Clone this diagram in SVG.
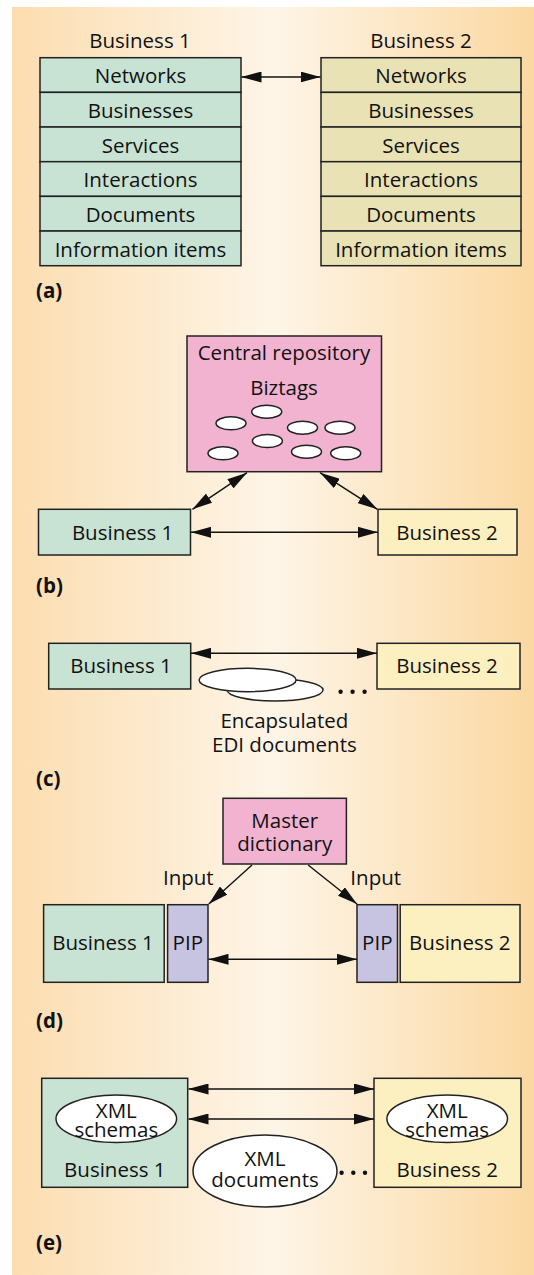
<svg xmlns="http://www.w3.org/2000/svg" width="534" height="1275" viewBox="0 0 534 1275">
<defs>
<linearGradient id="bg" x1="0" y1="0" x2="1" y2="0">
<stop offset="0" stop-color="#fcddb0"/>
<stop offset="0.5" stop-color="#fef5e7"/>
<stop offset="1" stop-color="#fbd8a2"/>
</linearGradient>
<marker id="ah" viewBox="0 0 20 11" refX="20" refY="5.5" markerWidth="20" markerHeight="11" markerUnits="userSpaceOnUse" orient="auto-start-reverse">
<path d="M0,0 L20,5.5 L0,11 z" fill="#111"/>
</marker>
</defs>
<style>
text{font-family:"Open Sans","Noto Sans","Liberation Sans",sans-serif;font-size:20.5px;fill:#111;text-anchor:middle}
.lbl{font-weight:bold;text-anchor:start}
.box{stroke:#222;stroke-width:1.5}
.g{fill:#c8e3d3}
.k{fill:#e9e2b4}
.y{fill:#fcefc0}
.p{fill:#f2b3d0}
.v{fill:#c7c4e1}
.el{fill:#fff;stroke:#222;stroke-width:1.5}
.cn{stroke:#111;stroke-width:1.4;fill:none}
.dot{fill:#111}
</style>
<rect x="12" y="7" width="522" height="1268" fill="url(#bg)"/>

<!-- (a) -->
<g id="a-business1">
<text x="140" y="48">Business 1</text>
<rect class="box g" x="40" y="57.7" width="201" height="34.67"/>
<rect class="box g" x="40" y="92.37" width="201" height="34.67"/>
<rect class="box g" x="40" y="127.03" width="201" height="34.67"/>
<rect class="box g" x="40" y="161.7" width="201" height="34.67"/>
<rect class="box g" x="40" y="196.37" width="201" height="34.67"/>
<rect class="box g" x="40" y="231.03" width="201" height="34.67"/>
<text x="140.5" y="83.3">Networks</text>
<text x="140.5" y="118">Businesses</text>
<text x="140.5" y="152.6">Services</text>
<text x="140.5" y="187.3">Interactions</text>
<text x="140.5" y="222">Documents</text>
<text x="140.5" y="256.6">Information items</text>
</g>
<g id="a-business2">
<text x="421" y="48">Business 2</text>
<rect class="box k" x="321" y="57.7" width="200" height="34.67"/>
<rect class="box k" x="321" y="92.37" width="200" height="34.67"/>
<rect class="box k" x="321" y="127.03" width="200" height="34.67"/>
<rect class="box k" x="321" y="161.7" width="200" height="34.67"/>
<rect class="box k" x="321" y="196.37" width="200" height="34.67"/>
<rect class="box k" x="321" y="231.03" width="200" height="34.67"/>
<text x="421" y="83.3">Networks</text>
<text x="421" y="118">Businesses</text>
<text x="421" y="152.6">Services</text>
<text x="421" y="187.3">Interactions</text>
<text x="421" y="222">Documents</text>
<text x="421" y="256.6">Information items</text>
</g>
<text class="lbl" x="36" y="298">(a)</text>

<!-- (b) -->
<g id="b-repository">
<rect class="box p" x="187" y="336" width="194.5" height="135.7"/>
<text x="284" y="360">Central repository</text>
<text x="284" y="395">Biztags</text>
<ellipse class="el" cx="266.7" cy="411.7" rx="15" ry="6.5"/>
<ellipse class="el" cx="231" cy="423.3" rx="15" ry="6.5"/>
<ellipse class="el" cx="302.5" cy="427.7" rx="15" ry="6.5"/>
<ellipse class="el" cx="340" cy="427.7" rx="15" ry="6.5"/>
<ellipse class="el" cx="267.4" cy="441" rx="15" ry="6.5"/>
<ellipse class="el" cx="223" cy="453.3" rx="15" ry="6.5"/>
<ellipse class="el" cx="306.5" cy="451.7" rx="15" ry="6.5"/>
<ellipse class="el" cx="345.7" cy="453.3" rx="15" ry="6.5"/>
</g>
<g id="b-business1">
<rect class="box g" x="38.5" y="509.3" width="152" height="45.7"/>
<text x="122.6" y="540">Business 1</text>
</g>
<g id="b-business2">
<rect class="box y" x="378" y="509.3" width="139" height="45.7"/>
<text x="447" y="540">Business 2</text>
</g>
<text class="lbl" x="36" y="593">(b)</text>

<!-- (c) -->
<g id="c-business1">
<rect class="box g" x="48.7" y="643.3" width="142" height="45.7"/>
<text x="121" y="673.3">Business 1</text>
</g>
<g id="c-business2">
<rect class="box y" x="377" y="643.3" width="143" height="45.7"/>
<text x="447" y="673.3">Business 2</text>
</g>
<g id="c-documents">
<ellipse class="el" cx="275" cy="690" rx="48" ry="11"/>
<ellipse class="el" cx="247.6" cy="680" rx="48.5" ry="11.7"/>
<circle class="dot" cx="340.6" cy="691.7" r="2.2"/>
<circle class="dot" cx="352.6" cy="691.7" r="2.2"/>
<circle class="dot" cx="364.6" cy="691.7" r="2.2"/>
<text x="284.4" y="728.3">Encapsulated</text>
<text x="284.4" y="751.7">EDI documents</text>
</g>
<text class="lbl" x="36" y="786">(c)</text>

<!-- (d) -->
<g id="d-master">
<rect class="box p" x="223" y="798.3" width="123.4" height="65.7"/>
<text x="284.7" y="828.3">Master</text>
<text x="284.7" y="851">dictionary</text>
</g>
<g id="d-business1">
<rect class="box g" x="43.6" y="904.7" width="120.6" height="77.6"/>
<text x="103" y="950">Business 1</text>
</g>
<g id="d-pip1">
<rect class="box v" x="167.6" y="904.7" width="40.4" height="77.6"/>
<text x="187.8" y="950">PIP</text>
</g>
<g id="d-pip2">
<rect class="box v" x="357" y="904.7" width="40.5" height="77.6"/>
<text x="377.3" y="950">PIP</text>
</g>
<g id="d-business2">
<rect class="box y" x="400.2" y="904.7" width="119.8" height="77.6"/>
<text x="459.8" y="950">Business 2</text>
</g>
<text x="188.3" y="885">Input</text>
<text x="375.7" y="885">Input</text>
<text class="lbl" x="36" y="1028">(d)</text>

<!-- (e) -->
<g id="e-business1">
<rect class="box g" x="41.7" y="1078.3" width="146" height="109"/>
<ellipse class="el" cx="116.3" cy="1118.8" rx="60.3" ry="23.8"/>
<text x="116.3" y="1118">XML</text>
<text x="116.3" y="1137">schemas</text>
<text x="114.8" y="1176.5">Business 1</text>
</g>
<g id="e-business2">
<rect class="box y" x="374" y="1078.3" width="147" height="109"/>
<ellipse class="el" cx="447.2" cy="1118.8" rx="60.3" ry="23.8"/>
<text x="447.2" y="1118">XML</text>
<text x="447.2" y="1137">schemas</text>
<text x="447.2" y="1176.5">Business 2</text>
</g>
<g id="e-documents">
<ellipse class="el" cx="265" cy="1171" rx="72" ry="36"/>
<text x="265" y="1166">XML</text>
<text x="265" y="1187">documents</text>
<circle class="dot" cx="341.6" cy="1172.7" r="2.2"/>
<circle class="dot" cx="353.3" cy="1172.7" r="2.2"/>
<circle class="dot" cx="365" cy="1172.7" r="2.2"/>
</g>
<text class="lbl" x="36" y="1250">(e)</text>

<g id="connectors">
<line class="cn" x1="241.5" y1="77" x2="320.5" y2="77" marker-start="url(#ah)" marker-end="url(#ah)"/>
<line class="cn" x1="192.4" y1="509.3" x2="247" y2="472.7" marker-start="url(#ah)" marker-end="url(#ah)"/>
<line class="cn" x1="320" y1="472.7" x2="377.4" y2="509.3" marker-start="url(#ah)" marker-end="url(#ah)"/>
<line class="cn" x1="191" y1="532.3" x2="378" y2="532.3" marker-start="url(#ah)" marker-end="url(#ah)"/>
<line class="cn" x1="191" y1="653.3" x2="377" y2="653.3" marker-start="url(#ah)" marker-end="url(#ah)"/>
<line class="cn" x1="252" y1="865" x2="208.8" y2="904" marker-end="url(#ah)"/>
<line class="cn" x1="308.2" y1="865" x2="357" y2="904" marker-end="url(#ah)"/>
<line class="cn" x1="208.5" y1="959.3" x2="357" y2="959.3" marker-start="url(#ah)" marker-end="url(#ah)"/>
<line class="cn" x1="188.5" y1="1089" x2="374" y2="1089" marker-start="url(#ah)" marker-end="url(#ah)"/>
<line class="cn" x1="188.5" y1="1119" x2="374" y2="1119" marker-start="url(#ah)" marker-end="url(#ah)"/>
</g>
</svg>
